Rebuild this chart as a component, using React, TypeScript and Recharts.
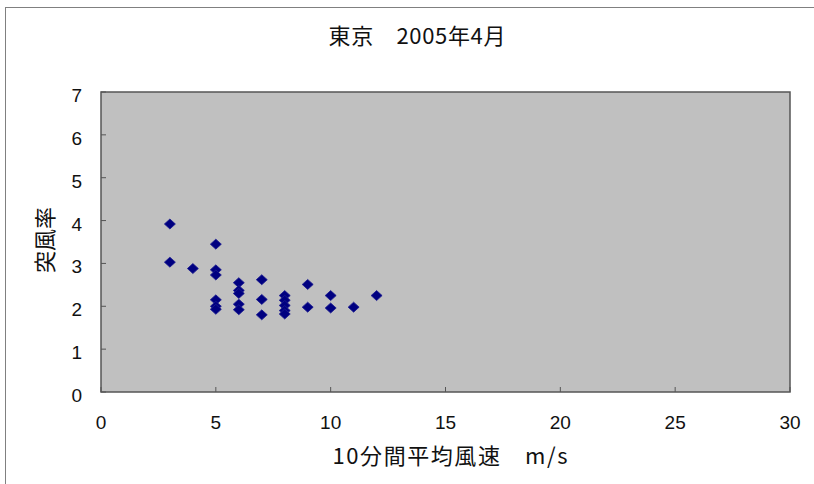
import React from 'react';
import { ScatterChart, Scatter, XAxis, YAxis, CartesianGrid, ReferenceArea } from 'recharts';

// 10-minute mean wind speed (m/s) and gust factor, Tokyo April 2005
const windSpeed = [3, 3, 4, 5, 5, 5, 5, 5, 5, 6, 6, 6, 6, 6, 7, 7, 7, 8, 8, 8, 8, 8, 9, 9, 10, 10, 11, 12];
const gustFactor = [
    3.92, 3.03, 2.88, 3.45, 2.85, 2.73, 2.15, 2.0, 1.93, 2.55, 2.37, 2.3, 2.05, 1.92, 2.62, 2.16, 1.8,
    2.25, 2.14, 2.02, 1.9, 1.82, 2.51, 1.98, 2.25, 1.96, 1.98, 2.25,
];
const xTicks = [0, 5, 10, 15, 20, 25, 30];
const yTicks = [0, 1, 2, 3, 4, 5, 6, 7];

const points = windSpeed.map((x, i) => ({ x, y: gustFactor[i] }));

const tickFont = "'Liberation Sans', Arial, sans-serif";
const jpFont = "'Noto Sans CJK JP', sans-serif";

const Diamond = (props: any) => {
    const { cx, cy } = props;
    if (cx == null || cy == null) return null;
    return (
        <polygon
            points={`${cx - 5.5},${cy} ${cx},${cy - 5} ${cx + 5.5},${cy} ${cx},${cy + 5}`}
            fill="#000080"
            stroke="#1a1a90"
            strokeWidth={0.8}
        />
    );
};

const XTick = (props: any) => {
    const { x, y, payload } = props;
    return (
        <g>
            <line x1={x} x2={x} y1={y} y2={y - 5} stroke="#555" strokeWidth={1} />
            <text x={x} y={y + 37} textAnchor="middle" fontSize={19} fontFamily={tickFont} fill="#111">
                {payload.value}
            </text>
        </g>
    );
};

const YTick = (props: any) => {
    const { x, y, payload } = props;
    return (
        <g>
            <line x1={x} x2={x + 5} y1={y} y2={y} stroke="#555" strokeWidth={1} />
            <text x={x - 19} y={y + 10} textAnchor="end" fontSize={19} fontFamily={tickFont} fill="#111">
                {payload.value}
            </text>
        </g>
    );
};

export default function App() {
    return (
        <div style={{ position: 'absolute', left: 0, top: 0, width: 814, height: 484, overflow: 'hidden', background: '#fff' }}>
            <div
                style={{
                    position: 'absolute',
                    left: 5,
                    top: 7,
                    width: 900,
                    height: 600,
                    borderLeft: '1.5px solid #808080',
                    borderTop: '1.5px solid #808080',
                }}
            />
            <ScatterChart width={814} height={484} margin={{ top: 92, right: 24, bottom: 32, left: 0 }}>
                <CartesianGrid horizontal={false} vertical={false} fill="#c0c0c0" />
                <XAxis
                    type="number"
                    dataKey="x"
                    domain={[0, 30]}
                    ticks={xTicks}
                    height={60}
                    tickSize={0}
                    tickMargin={0}
                    tick={<XTick />}
                    axisLine={false}
                    tickLine={false}
                    interval={0}
                />
                <YAxis
                    type="number"
                    dataKey="y"
                    domain={[0, 7]}
                    ticks={yTicks}
                    width={101}
                    tickSize={0}
                    tickMargin={0}
                    tick={<YTick />}
                    axisLine={false}
                    tickLine={false}
                    interval={0}
                />
                <ReferenceArea x1={0} x2={30} y1={0} y2={7} fill="none" stroke="#555" strokeWidth={1.5} ifOverflow="visible" />
                <Scatter data={points} shape={<Diamond />} isAnimationActive={false} />
                <text
                    x={417}
                    y={44}
                    textAnchor="middle"
                    fontSize={22}
                    fontFamily={jpFont}
                    fill="#111"
                    textLength={177}
                    lengthAdjust="spacing"
                >
                    東京　2005年4月
                </text>
                <text
                    x={450}
                    y={464}
                    textAnchor="middle"
                    fontSize={22}
                    fontFamily={jpFont}
                    fill="#111"
                    textLength={235}
                    lengthAdjust="spacing"
                >
                    10分間平均風速　m/s
                </text>
                <text
                    x={43}
                    y={240}
                    textAnchor="middle"
                    fontSize={22}
                    fontFamily={jpFont}
                    fill="#111"
                    transform="rotate(-90 43 240)"
                    dominantBaseline="central"
                >
                    突風率
                </text>
            </ScatterChart>
        </div>
    );
}
